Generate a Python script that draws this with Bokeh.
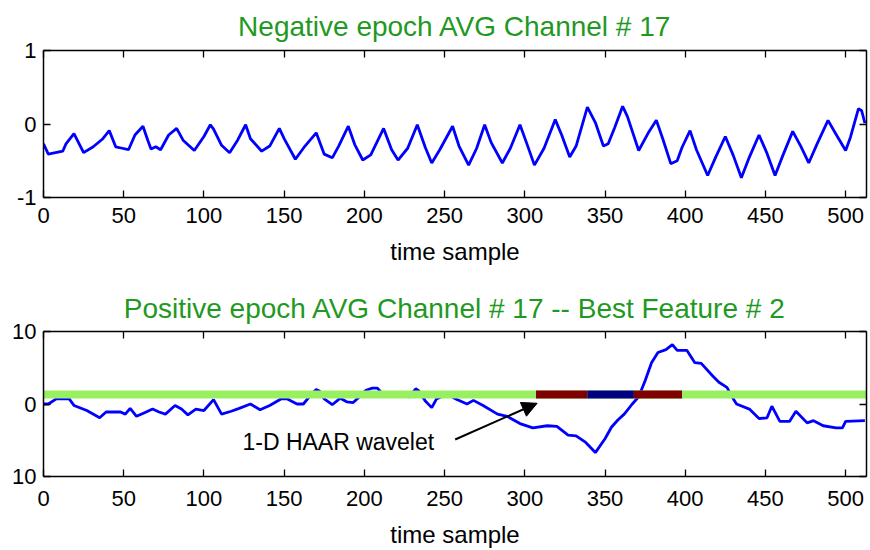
from bokeh.plotting import figure
from bokeh.layouts import column
from bokeh.models import (LinearAxis, FixedTicker, Range1d, Arrow, NormalHead,
                          Label, CustomJSTickFormatter)
from bokeh.embed import file_html
from bokeh.resources import INLINE

# ---------------- data ----------------
neg_title = "Negative epoch AVG Channel # 17"
pos_title = "Positive epoch AVG Channel # 17 -- Best Feature # 2"
x_label = "time sample"

x_ticks = [0, 50, 100, 150, 200, 250, 300, 350, 400, 450, 500]
neg_y_ticks = [-1, 0, 1]
neg_y_labels = ["-1", "0", "1"]
pos_y_ticks = [-10, 0, 10]
pos_y_labels = ["10", "0", "10"]

neg_x = [0, 3, 12, 14, 19, 25, 31, 37, 41, 45, 49, 53, 57, 62, 65, 67, 70, 73, 78, 83,
         87, 94, 100, 104, 106, 111, 116, 121, 126, 129, 136, 141, 147, 150, 157, 163,
         170, 175, 180, 184, 190, 194, 199, 204, 212, 217, 221, 227, 233, 238, 242, 247,
         255, 259, 265, 270, 275, 279, 286, 291, 297, 301, 306, 312, 319, 323, 328, 332,
         339, 344, 349, 352, 356, 361, 364, 371, 377, 382, 386, 391, 395, 398, 403, 407,
         414, 419, 425, 430, 435, 440, 446, 451, 456, 461, 467, 472, 477, 482, 489, 494,
         500, 503, 508, 510, 512]
neg_y = [-0.27, -0.41, -0.37, -0.27, -0.13, -0.39, -0.31, -0.20, -0.09, -0.31, -0.33,
         -0.35, -0.15, -0.03, -0.22, -0.34, -0.31, -0.35, -0.15, -0.06, -0.22, -0.36,
         -0.17, -0.01, -0.07, -0.29, -0.39, -0.22, -0.01, -0.20, -0.37, -0.30, -0.06,
         -0.20, -0.48, -0.30, -0.12, -0.41, -0.46, -0.30, -0.03, -0.28, -0.49, -0.42,
         -0.06, -0.35, -0.49, -0.33, -0.01, -0.32, -0.53, -0.35, -0.03, -0.30, -0.56,
         -0.33, -0.01, -0.25, -0.53, -0.33, -0.01, -0.25, -0.56, -0.33, 0.06, -0.15,
         -0.45, -0.30, 0.23, 0.02, -0.30, -0.27, -0.05, 0.24, 0.10, -0.36, -0.12, 0.05,
         -0.20, -0.54, -0.50, -0.32, -0.09, -0.35, -0.70, -0.45, -0.17, -0.43, -0.73,
         -0.45, -0.15, -0.40, -0.70, -0.42, -0.10, -0.30, -0.53, -0.28, 0.05, -0.14,
         -0.36, -0.18, 0.21, 0.18, 0.01]

pos_x = [0, 3, 8, 16, 19, 27, 35, 39, 48, 51, 54, 58, 63, 68, 72, 76, 82, 86, 90, 95,
         100, 106, 111, 117, 122, 129, 135, 141, 148, 152, 158, 162, 166, 170, 172, 175,
         180, 185, 189, 193, 196, 201, 205, 208, 211, 216, 222, 228, 232, 234, 238, 242,
         245, 249, 253, 257, 264, 268, 274, 283, 289, 297, 305, 314, 320, 327, 332, 338,
         344, 350, 354, 358, 362, 367, 371, 375, 379, 383, 388, 392, 395, 401, 406, 410,
         417, 421, 426, 430, 432, 440, 446, 451, 454, 459, 465, 469, 476, 480, 486, 494,
         498, 500, 512]
pos_y = [0.0, 0.0, 0.7, 0.7, -0.2, -0.9, -1.9, -1.1, -1.1, -1.4, -0.6, -1.7, -1.2, -0.7,
         -1.1, -1.4, -0.2, -0.7, -1.5, -0.7, -0.9, 0.6, -1.4, -1.0, -0.6, 0.0, -0.8, -0.2,
         0.7, 0.7, 0.0, 0.0, 1.1, 2.0, 1.8, 0.7, -0.1, 0.8, 0.3, 0.2, 0.8, 1.9, 2.2, 2.2,
         1.5, 1.1, 1.2, 1.0, 2.1, 1.8, 0.4, -0.5, 0.7, 1.1, 1.2, 0.7, 0.0, 0.5, -0.2, -1.4,
         -1.7, -2.7, -3.3, -3.0, -3.1, -4.3, -4.4, -5.3, -6.7, -4.8, -3.2, -2.2, -1.4, 0.0,
         1.0, 3.2, 5.7, 7.1, 7.5, 8.2, 7.4, 7.4, 5.7, 5.6, 3.9, 3.0, 2.3, 0.7, 0.0, -0.7,
         -2.0, -1.9, -0.3, -2.4, -2.4, -1.0, -2.6, -2.3, -3.0, -3.3, -3.3, -2.4, -2.3]

feature_level = 1.3
feature_span = [0, 513]
haar_start = [307, 339, 368]
haar_end = [339, 368, 398]
haar_colors = ["#800000", "#000080", "#800000"]

annot_text = "1-D HAAR wavelet"
annot_pos = (124, -5.2)
arrow_from = (256.6, -4.9)
arrow_to = (307.7, 0.1)

# ---------------- styling helpers ----------------
FONT = "Liberation Sans"
TITLE_GREEN = "#1f991f"


def empty_axis(ticks):
    ax = LinearAxis(ticker=FixedTicker(ticks=ticks),
                    formatter=CustomJSTickFormatter(code="return ''"),
                    major_tick_in=7, major_tick_out=0, minor_tick_in=0, minor_tick_out=0,
                    major_label_standoff=0, major_label_text_font_size="0px",
                    axis_line_width=1.5, axis_line_color="black",
                    major_tick_line_width=1.3)
    return ax


def make_fig(title, height, top, bottom, y_lo, y_hi, y_ticks, y_labels, standoff,
             tick_standoff):
    p = figure(width=870, height=height, x_range=Range1d(0, 513),
               y_range=Range1d(y_lo, y_hi), output_backend="svg", toolbar_location=None,
               min_border_left=43, min_border_right=4, min_border_top=top,
               min_border_bottom=bottom, title=title)
    p.title.text_font = FONT
    p.title.text_font_size = "28px"
    p.title.text_font_style = "normal"
    p.title.text_color = TITLE_GREEN
    p.title.align = "center"
    p.title.standoff = standoff
    p.xgrid.visible = False
    p.ygrid.visible = False
    p.outline_line_color = None
    p.background_fill_color = "white"
    p.border_fill_color = "white"

    xa = p.xaxis[0]
    xa.ticker = FixedTicker(ticks=x_ticks)
    xa.axis_label = x_label
    ya = p.yaxis[0]
    ya.ticker = FixedTicker(ticks=y_ticks)
    ya.major_label_overrides = {t: l for t, l in zip(y_ticks, y_labels)}
    for ax in (xa, ya):
        ax.major_tick_in = 7
        ax.major_tick_out = 0
        ax.minor_tick_in = 0
        ax.minor_tick_out = 0
        ax.axis_line_width = 1.5
        ax.axis_line_color = "black"
        ax.major_tick_line_width = 1.3
        ax.major_label_text_font = FONT
        ax.major_label_text_font_size = "22px"
        ax.major_label_text_color = "black"
        ax.axis_label_text_font = FONT
        ax.axis_label_text_font_size = "24px"
        ax.axis_label_text_font_style = "normal"
        ax.axis_label_text_color = "black"
    xa.major_label_standoff = tick_standoff
    xa.axis_label_standoff = 12
    ya.major_label_standoff = 7

    p.add_layout(empty_axis(x_ticks), "above")
    p.add_layout(empty_axis(y_ticks), "right")
    return p


# ---------------- top: negative epoch ----------------
p1 = make_fig(neg_title, 270, 50, 73, -1, 1, neg_y_ticks, neg_y_labels, 17, 10)
p1.line(neg_x, neg_y, line_color="#0000ff", line_width=2.8)

# ---------------- bottom: positive epoch ----------------
p2 = make_fig(pos_title, 280, 61, 72, -10, 10, pos_y_ticks, pos_y_labels, 15, 14)
p2.line(pos_x, pos_y, line_color="#0000ff", line_width=2.8)
p2.line(feature_span, [feature_level, feature_level], line_color="#98f060", line_width=8)
p2.segment(x0=haar_start, y0=[feature_level] * len(haar_start), x1=haar_end,
           y1=[feature_level] * len(haar_end), line_color=haar_colors, line_width=8)

p2.add_layout(Arrow(end=NormalHead(size=15, fill_color="black", line_color="black"),
                    x_start=arrow_from[0], y_start=arrow_from[1],
                    x_end=arrow_to[0], y_end=arrow_to[1],
                    line_color="black", line_width=2))
p2.add_layout(Label(x=annot_pos[0], y=annot_pos[1], text=annot_text, text_font=FONT,
                    text_font_size="23px", text_baseline="middle", text_color="black"))

layout = column(p1, p2)
open("out.html", "w").write(file_html(layout, INLINE))
